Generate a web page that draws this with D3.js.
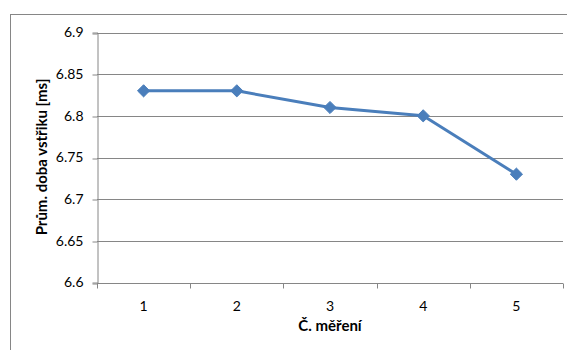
<!DOCTYPE html>
<html>
<head>
<meta charset="utf-8">
<script src="https://cdn.jsdelivr.net/npm/d3@7"></script>
<style>
  html, body { margin: 0; padding: 0; background: #fff; }
  svg { display: block; }
  text { font-family: "Lato", "Open Sans", sans-serif; fill: #000; }
</style>
</head>
<body>
<svg id="chart" width="567" height="350"></svg>
<script>
// Measurement number and mean injection time [ms]
const categories = ["1", "2", "3", "4", "5"];
const values = [6.83, 6.83, 6.81, 6.80, 6.73];
const yTicks = [6.6, 6.65, 6.7, 6.75, 6.8, 6.85, 6.9];
const xTitle = "Č. měření";
const yTitle = "Prům. doba vstřiku [ms]";

const svg = d3.select("#chart");
const plot = { left: 97, right: 563, top: 32.5, bottom: 282.5 };

// outer chart frame (extends past the right and bottom edges)
svg.append("rect")
  .attr("x", 10.5).attr("y", 14.5)
  .attr("width", 600).attr("height", 400)
  .attr("fill", "#fff").attr("stroke", "#868686").attr("stroke-width", 1);

const x = d3.scaleBand().domain(categories).range([plot.left, plot.right]);
const y = d3.scaleLinear().domain([6.6, 6.9]).range([plot.bottom, plot.top]);
const snap = v => Math.round(v) + 0.5;

// horizontal gridlines
svg.append("g").selectAll("line").data(yTicks.slice(1)).join("line")
  .attr("x1", plot.left).attr("x2", plot.right)
  .attr("y1", d => snap(y(d))).attr("y2", d => snap(y(d)))
  .attr("stroke", "#868686").attr("stroke-width", 1);

// y axis
const yAxis = svg.append("g")
  .attr("transform", `translate(${plot.left + 0.5},0)`)
  .call(d3.axisLeft(y).tickValues(yTicks).tickFormat(d3.format("")).tickSize(5).tickPadding(9));
yAxis.select(".domain").attr("stroke", "#868686");
yAxis.selectAll(".tick line").attr("stroke", "#868686")
  .attr("transform", d => `translate(0,${snap(y(d)) - y(d)})`);
yAxis.selectAll("text")
  .style("font-size", "14px").style("font-family", "Lato, sans-serif")
  .attr("fill", "#000");

// x axis with ticks at category boundaries
const xAxisG = svg.append("g").attr("transform", `translate(0,${snap(plot.bottom)})`);
xAxisG.append("line")
  .attr("x1", plot.left).attr("x2", plot.right)
  .attr("stroke", "#868686");
const bounds = categories.map(c => x(c)).concat([x(categories[categories.length - 1]) + x.bandwidth()]);
xAxisG.selectAll("line.tk").data(bounds).join("line").attr("class", "tk")
  .attr("x1", d => snap(d)).attr("x2", d => snap(d))
  .attr("y1", 0).attr("y2", 5)
  .attr("stroke", "#868686");
xAxisG.selectAll("text").data(categories).join("text")
  .attr("x", d => x(d) + x.bandwidth() / 2)
  .attr("y", 27)
  .attr("text-anchor", "middle")
  .style("font-size", "14px")
  .text(d => d);

// axis titles
svg.append("text")
  .attr("x", (plot.left + plot.right) / 2)
  .attr("y", 331)
  .attr("text-anchor", "middle")
  .style("font-size", "15px").style("font-weight", "bold")
  .text(xTitle);
svg.append("text")
  .attr("transform", `translate(47,157) rotate(-90)`)
  .attr("text-anchor", "middle")
  .style("font-size", "15px").style("font-weight", "bold")
  .text(yTitle);

// series line
const cx = d => x(d) + x.bandwidth() / 2;
const line = d3.line().x((d, i) => cx(categories[i])).y(d => y(d));
svg.append("path").datum(values)
  .attr("d", line)
  .attr("fill", "none")
  .attr("stroke", "#4A7EBB")
  .attr("stroke-width", 3)
  .attr("stroke-linejoin", "round");

// diamond markers
const diamond = d3.symbol().type(d3.symbolDiamond2).size(95);
svg.append("g").selectAll("path").data(values).join("path")
  .attr("transform", (d, i) => `translate(${cx(categories[i])},${y(d)})`)
  .attr("d", diamond)
  .attr("fill", "#4A7EBB")
  .attr("stroke", "#4A7EBB").attr("stroke-width", 1);
</script>
</body>
</html>
